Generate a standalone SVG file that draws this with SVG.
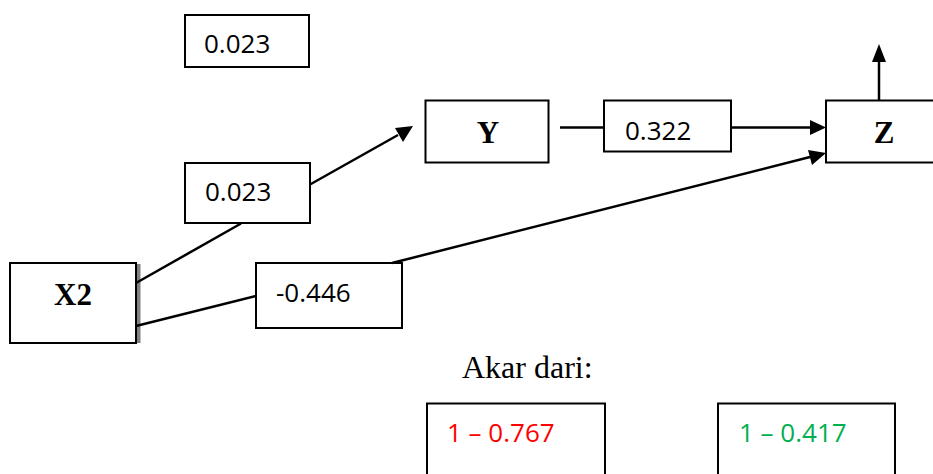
<svg xmlns="http://www.w3.org/2000/svg" width="933" height="474" viewBox="0 0 933 474">
<style>
.box{fill:#fff;stroke:#000;stroke-width:2}
.num{font-family:"Open Sans","Liberation Sans",Arial,sans-serif;font-size:26px;fill:#000}
.var{font-family:"Liberation Serif","Times New Roman",serif;font-size:31px;font-weight:bold;fill:#000}
.lbl{font-family:"Liberation Serif","Times New Roman",serif;font-size:32px;fill:#000}
.ln{stroke:#000;stroke-width:2.5;fill:none}
.ah{fill:#000}
</style>
<rect width="933" height="474" fill="#fff"/>
<g id="n_c1"><rect class="box" x="185" y="15" width="124" height="52"/><text class="num" x="204" y="53">0.023</text></g>
<g id="n_c2"><rect class="box" x="185" y="163" width="125" height="60"/><text class="num" x="205" y="201">0.023</text></g>
<g id="n_x2"><rect x="137" y="264" width="3.5" height="79" fill="#808080"/><rect class="box" x="10" y="263" width="126" height="80"/><text class="var" x="73" y="305" text-anchor="middle">X2</text></g>
<g id="n_c3"><rect class="box" x="256" y="263" width="146" height="65"/><text class="num" x="276" y="302">-0.446</text></g>
<g id="n_y"><rect class="box" x="425.5" y="100.5" width="123" height="62"/><text class="var" x="488" y="143" text-anchor="middle">Y</text></g>
<g id="n_c4"><rect class="box" x="604" y="100.5" width="127" height="51"/><text class="num" x="625" y="140">0.322</text></g>
<g id="n_z"><rect class="box" x="826" y="100.5" width="120" height="62"/><text class="var" x="884" y="143" text-anchor="middle">Z</text></g>
<text class="lbl" x="462" y="378">Akar dari:</text>
<g id="n_r1"><rect class="box" x="427" y="403.5" width="178" height="80"/><text class="num" x="447" y="442" style="fill:#FF0000">1 – 0.767</text></g>
<g id="n_r2"><rect class="box" x="718" y="403.5" width="177" height="80"/><text class="num" x="739" y="442" style="fill:#00B050">1 – 0.417</text></g>
<g id="connectors">
<line class="ln" x1="136" y1="283" x2="241" y2="223.5"/>
<line class="ln" x1="310" y1="184.5" x2="398" y2="135"/>
<path class="ah" d="M413,126 L395,128 L403,142 Z"/>
<line class="ln" x1="136" y1="326" x2="256" y2="296"/>
<line class="ln" x1="392" y1="263" x2="810" y2="157"/>
<path class="ah" d="M826,153 L808,150 L812,165 Z"/>
<line class="ln" x1="560" y1="127.5" x2="604" y2="127.5"/>
<line class="ln" x1="731" y1="127.5" x2="810" y2="127.5"/>
<path class="ah" d="M826,127.5 L810,120 L810,135 Z"/>
<line class="ln" x1="879" y1="100" x2="879" y2="60"/>
<path class="ah" d="M879,44 L872,62 L886,62 Z"/>
</g>
</svg>
